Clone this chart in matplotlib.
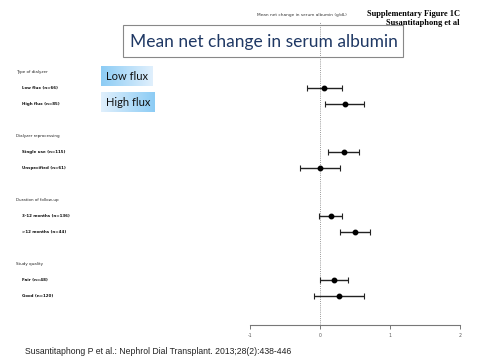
import matplotlib
matplotlib.use("Agg")
import matplotlib.pyplot as plt
import numpy as np
from matplotlib.transforms import blended_transform_factory
from matplotlib.patches import Rectangle

# ---- data ----
groups = ["Type of dialyzer", "Dialyzer reprocessing", "Duration of follow-up", "Study quality"]
labels = [
    ["Low flux (n=66)", "High flux (n=85)"],
    ["Single use (n=115)", "Unspecified (n=61)"],
    ["3-12 months (n=136)", ">12 months (n=44)"],
    ["Fair (n=48)", "Good (n=120)"],
]
means = [[0.06, 0.35], [0.34, 0.00], [0.15, 0.50], [0.20, 0.27]]
lower = [[-0.19, 0.07], [0.11, -0.29], [-0.01, 0.29], [0.00, -0.09]]
upper = [[0.32, 0.63], [0.56, 0.29], [0.31, 0.72], [0.40, 0.63]]
xticks = [-1, 0, 1, 2]
xticklabels = ["-1", "0", "1", "2"]

W, H = 480, 360
fig = plt.figure(figsize=(4.8, 3.6), dpi=100)
fig.patch.set_facecolor("white")

def fx(px):
    return px / W

def fy(py):
    return 1 - py / H

# axes: x from px 250 to 460, y from px 22 to 325
ax = fig.add_axes([fx(250), fy(325), fx(460) - fx(250), (325 - 22) / H])
row0_px = 72.0
row_h = 16.0
ax.set_xlim(-1, 2)
ax.set_ylim((325 - row0_px) / row_h, (22 - row0_px) / row_h)
for s in ["top", "right", "left"]:
    ax.spines[s].set_visible(False)
ax.spines["bottom"].set_color("#777777")
ax.spines["bottom"].set_linewidth(0.8)
ax.set_yticks([])
ax.set_xticks(xticks)
ax.set_xticklabels(xticklabels, fontsize=3.3, color="#555555")
ax.tick_params(axis="x", length=3, width=0.7, color="#777777", pad=2.5)
ax.patch.set_alpha(0)

ax.axvline(0, color="#999999", lw=0.7, ls=(0, (1, 1.2)), zorder=1)

narrow = ["Liberation Sans Narrow", "DejaVu Sans"]
trans = blended_transform_factory(fig.transFigure, ax.transData)
row = 0
for g, name in enumerate(groups):
    ax.text(fx(16), row, name, transform=trans, fontsize=2.9, va="center", ha="left",
            family=narrow, color="#222222")
    for k in range(2):
        r = row + 1 + k
        ax.text(fx(22), r, labels[g][k], transform=trans, fontsize=2.9, va="center", ha="left",
                family=narrow, weight="bold", color="#111111")
        m = means[g][k]
        ax.errorbar([m], [r], xerr=[[m - lower[g][k]], [upper[g][k] - m]], fmt="o",
                    color="black", ecolor="#222222", elinewidth=1.0, capsize=2.2,
                    capthick=0.8, markersize=3.2, zorder=3)
    row += 4

# top small axis title
fig.text(fx(302), fy(15), "Mean net change in serum albumin (g/dL)", fontsize=3.1,
         family=narrow, ha="center", va="center", color="#333333")
fig.text(fx(460), fy(14), "Supplementary Figure 1C", fontsize=6, family="Liberation Serif",
         weight="bold", ha="right", va="center")
fig.text(fx(460), fy(23), "Susantitaphong et al", fontsize=6, family="Liberation Serif",
         weight="bold", ha="right", va="center")

# title box
fig.patches.append(Rectangle((fx(123), fy(57)), fx(403) - fx(123), (57 - 25) / H,
                             transform=fig.transFigure, facecolor="none",
                             edgecolor="#888888", lw=0.8, zorder=5))
fig.text(fx(130), fy(42), "Mean net change in serum albumin", fontsize=12.5, family="Lato",
         color="#1F3864", ha="left", va="center", zorder=6)

# gradient label boxes
def grad_box(x0, y0, x1, y1, reverse, text):
    bax = fig.add_axes([fx(x0), fy(y1), fx(x1) - fx(x0), (y1 - y0) / H])
    c1 = np.array([0.55, 0.80, 0.96])
    c2 = np.array([0.88, 0.94, 0.99])
    t = np.linspace(0, 1, 100)
    if reverse:
        t = t[::-1]
    img = (c1[None, :] * (1 - t[:, None]) + c2[None, :] * t[:, None])[None, :, :]
    bax.imshow(img, aspect="auto", extent=[0, 1, 0, 1])
    bax.set_xlim(0, 1)
    bax.set_ylim(0, 1)
    bax.axis("off")
    bax.text(0.1, 0.5, text, fontsize=8, family="Lato", va="center", ha="left", color="#111111")

grad_box(101, 66, 153, 86, False, "Low flux")
grad_box(101, 92, 155, 112, True, "High flux")

fig.text(fx(25), fy(352), "Susantitaphong P et al.: Nephrol Dial Transplant. 2013;28(2):438-446",
         fontsize=6.2, family="Liberation Sans", ha="left", va="center", color="#222222")

fig.savefig("out.png", dpi=100)
